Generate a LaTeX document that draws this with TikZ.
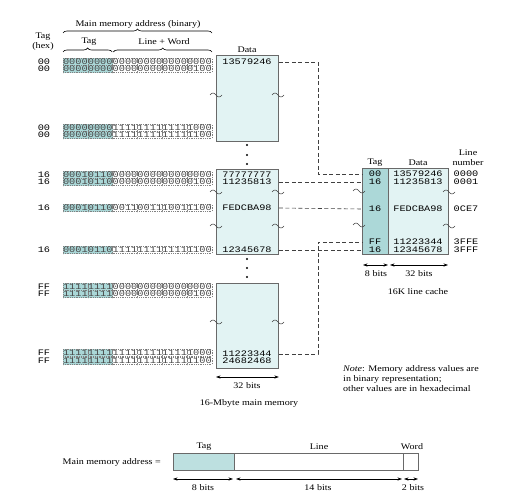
\documentclass[tikz,border=0pt]{standalone}
\usepackage{fontspec}
\setmainfont{Liberation Serif}[FakeStretch=1.17]
\newfontfamily\monof{Liberation Mono}[FakeStretch=1.22]
\usetikzlibrary{arrows.meta,decorations.pathreplacing}
\definecolor{memfill}{RGB}{226,243,243}
\definecolor{tagfill}{RGB}{172,216,216}
\definecolor{bintag}{RGB}{170,215,215}
\definecolor{bordergray}{RGB}{105,105,105}
\newcommand\bingrid[1]{%
  \fill[bintag] (63,#1-3.6) rectangle (112.6,#1+3.6);
  \foreach \g in {0,...,5}{\draw[grp] ({63+24.8*\g},#1-3.6) rectangle ({63+24.8*(\g+1)},#1+3.6);}%
}
\newcommand\binbits[2]{%
  \foreach \b [count=\i] in {#2}{\node[mono, text=black!72] at ({63+6.2*(\i-0.5)},#1) {\b};}%
}
\begin{document}
\begin{tikzpicture}[x=1pt,y=-1pt,
  txt/.style={font=\fontsize{8.6}{10}\selectfont, inner sep=0pt, align=center},
  mono/.style={font=\monof\fontsize{8.4}{8.4}\selectfont, inner sep=0pt},
  memblock/.style={draw=bordergray, fill=memfill, line width=0.8pt, inner sep=0pt, anchor=north west},
  dashconn/.style={draw=black!75, dash pattern=on 4pt off 2.5pt, line width=0.6pt},
  dim/.style={{Stealth[length=4.5pt,width=3.2pt]}-{Stealth[length=4.5pt,width=3.2pt]}, line width=0.6pt},
  brc/.style={decorate, decoration={brace, amplitude=4pt}, line width=0.6pt},
  grp/.style={draw=black!50, dash pattern=on 1pt off 0.8pt, line width=0.3pt},
  squig/.pic={\draw[line width=0.5pt, black!75] (-6,0) sin (-3,-2) cos (0,0) sin (3,2) cos (6,0);},
  dotm/.style={fill=black},
]
\useasboundingbox (0,0) rectangle (524,497);

% ---------- headers ----------
\node[txt] (hdrmain) at (138,24) {Main memory address (binary)};
\draw[brc] (63,33) -- (212,33);
\node[txt] (hdrhex) at (43,42) {Tag\\(hex)};
\node[txt] (hdrtag) at (89,42) {Tag};
\node[txt] (hdrlw) at (164,42) {Line + Word};
\draw[brc] (63,52) -- (112.2,52);
\draw[brc] (113.4,52) -- (212,52);
\node[txt] (hdrdata) at (247,50) {Data};

% ---------- memory blocks ----------
\node[memblock, minimum width=62pt, minimum height=86pt] (m1) at (216,55) {};
\node[memblock, minimum width=62pt, minimum height=85pt] (m2) at (216,169) {};
\node[memblock, minimum width=62pt, minimum height=85pt] (m3) at (216,283) {};

% squiggles on memory blocks
\foreach \yy in {95}{\pic at (216,\yy) {squig}; \pic at (278,\yy) {squig};}
\foreach \yy in {192,226}{\pic at (216,\yy) {squig}; \pic at (278,\yy) {squig};}
\foreach \yy in {322}{\pic at (216,\yy) {squig}; \pic at (278,\yy) {squig};}

% dots
\foreach \yy in {145,155,164,259,268,277}{\fill[dotm] (247,\yy) circle (1.2);}

% ---------- binary rows ----------
\foreach \yy in {62,69,128,135,175,182,208,250,287,294,353,361}{\bingrid{\yy}}
\binbits{62}{0,0,0,0,0,0,0,0,0,0,0,0,0,0,0,0,0,0,0,0,0,0,0,0}
\binbits{69}{0,0,0,0,0,0,0,0,0,0,0,0,0,0,0,0,0,0,0,0,0,1,0,0}
\binbits{128}{0,0,0,0,0,0,0,0,1,1,1,1,1,1,1,1,1,1,1,1,1,0,0,0}
\binbits{135}{0,0,0,0,0,0,0,0,1,1,1,1,1,1,1,1,1,1,1,1,1,1,0,0}
\binbits{175}{0,0,0,1,0,1,1,0,0,0,0,0,0,0,0,0,0,0,0,0,0,0,0,0}
\binbits{182}{0,0,0,1,0,1,1,0,0,0,0,0,0,0,0,0,0,0,0,0,0,1,0,0}
\binbits{208}{0,0,0,1,0,1,1,0,0,0,1,1,0,0,1,1,1,0,0,1,1,1,0,0}
\binbits{250}{0,0,0,1,0,1,1,0,1,1,1,1,1,1,1,1,1,1,1,1,1,1,0,0}
\binbits{287}{1,1,1,1,1,1,1,1,0,0,0,0,0,0,0,0,0,0,0,0,0,0,0,0}
\binbits{294}{1,1,1,1,1,1,1,1,0,0,0,0,0,0,0,0,0,0,0,0,0,1,0,0}
\binbits{353}{1,1,1,1,1,1,1,1,1,1,1,1,1,1,1,1,1,1,1,1,1,0,0,0}
\binbits{361}{1,1,1,1,1,1,1,1,1,1,1,1,1,1,1,1,1,1,1,1,1,1,0,0}

% hex tags
\foreach \yy/\hx [count=\k] in {62/00,69/00,128/00,135/00,175/16,182/16,208/16,250/16,287/FF,294/FF,353/FF,361/FF}
  {\node[mono] (hx\k) at (44,\yy) {\hx};}

% data values in memory
\node[mono] (d1) at (247,62) {13579246};
\node[mono] (d5) at (247,175) {77777777};
\node[mono] (d6) at (247,182) {11235813};
\node[mono] (d7) at (247,208) {FEDCBA98};
\node[mono] (d8) at (247,250) {12345678};
\node[mono] (d11) at (247,354) {11223344};
\node[mono] (d12) at (247,361) {24682468};

% memory dimension
\draw[dim] (m3.south west |- 0,377) -- (m3.south east |- 0,377);
\node[txt] (mbits) at (247,386) {32 bits};
\node[txt] (mcap) at (249,403) {16-Mbyte main memory};

% ---------- cache ----------
\node[memblock, fill=tagfill, minimum width=26pt, minimum height=86pt] (ctag) at (362,168) {};
\node[memblock, minimum width=60pt, minimum height=86pt] (cdata) at (388,168) {};
\node[txt] (chtag) at (375,163) {Tag};
\node[txt] (chdata) at (418,163) {Data};
\node[txt] (chline) at (468,158) {Line\\number};

\foreach \yy/\tg/\dv/\ln [count=\k] in {174/00/13579246/0000,182/16/11235813/0001,209/16/FEDCBA98/0CE7,242/FF/11223344/3FFE,250/16/12345678/3FFF}{
  \node[mono] (t\k) at (375,\yy) {\tg};
  \node[mono] (cd\k) at (418,\yy) {\dv};
  \node[mono] (ln\k) at (466,\yy) {\ln};
}
\foreach \yy in {191,225}{\pic at (359,\yy) {squig};}
\foreach \yy in {192,226}{\pic at (449,\yy) {squig};}

\draw[dim] (363,265) -- (388,265);
\draw[dim] (390,265) -- (448,265);
\node[txt] (c8) at (376,274) {8 bits};
\node[txt] (c32) at (419,274) {32 bits};
\node[txt] (ccap) at (418,292) {16K line cache};

% ---------- dashed connectors ----------
\coordinate (bend) at (318,0);
\draw[dashconn] (d1 -| m1.east) -- (d1 -| bend) |- (t1 -| ctag.west);
\draw[dashconn] (d6 -| m2.east) -- (t2 -| ctag.west);
\draw[dashconn] (d7 -| m2.east) -- (t3 -| ctag.west);
\draw[dashconn] (d8 -| m2.east) -- (t5 -| ctag.west);
\draw[dashconn] (d11 -| m3.east) -- (d11 -| bend) |- (t4 -| ctag.west);

% ---------- note ----------
\node[txt, align=left, anchor=west] (note) at (343,379) {\textit{Note}: Memory address values are\\in binary representation;\\other values are in hexadecimal};

% ---------- address format ----------
\node[txt, anchor=east] (addrlbl) at (161,462) {Main memory address =};
\node[memblock, fill=tagfill!80!white, minimum width=61pt, minimum height=17pt] (btag) at (173,453) {};
\node[memblock, fill=white, minimum width=169pt, minimum height=17pt] (bline) at (234,453) {};
\node[memblock, fill=white, minimum width=15pt, minimum height=17pt] (bword) at (403,453) {};
\node[txt] (ltag) at (204,447) {Tag};
\node[txt] (lline) at (319,447) {Line};
\node[txt] (lword) at (412,447) {Word};
\draw[dim] (173,479) -- (233,479);
\draw[dim] (236,479) -- (402,479);
\draw[dim] (404,479) -- (418,479);
\node[txt] (b8) at (203,488) {8 bits};
\node[txt] (b14) at (318,488) {14 bits};
\node[txt] (b2) at (413,488) {2 bits};
\end{tikzpicture}
\end{document}
